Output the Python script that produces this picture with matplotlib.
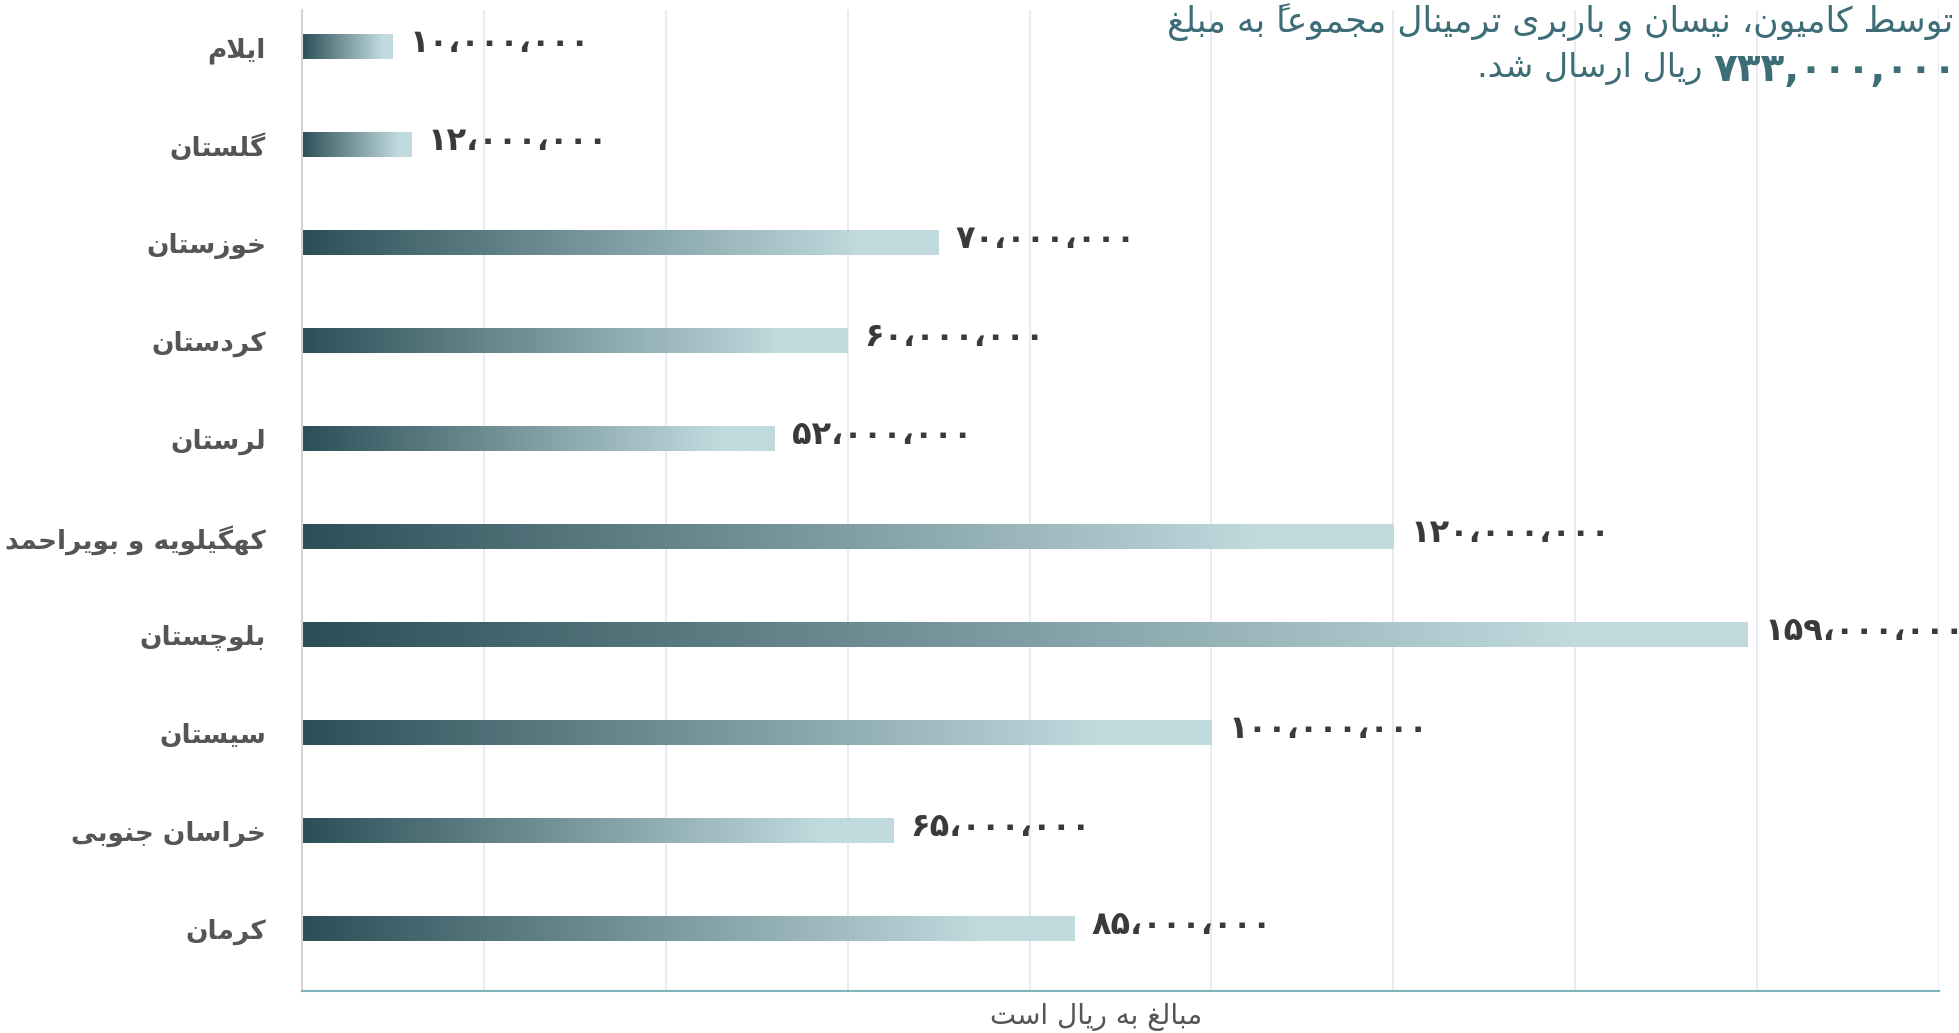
import numpy as np
import matplotlib
matplotlib.use("Agg")
import matplotlib.pyplot as plt
from matplotlib.colors import LinearSegmentedColormap

# provinces, top to bottom, and amounts in rials
provinces = ["ایلام", "گلستان", "خوزستان", "کردستان", "لرستان",
             "کهگیلویه و بویراحمد", "بلوچستان", "سیستان", "خراسان جنوبی", "کرمان"]
amounts = [10_000_000, 12_000_000, 70_000_000, 60_000_000, 52_000_000,
           120_000_000, 159_000_000, 100_000_000, 65_000_000, 85_000_000]
x_ticks = list(range(0, 180_000_001, 20_000_000))

title_line1 = "توسط کامیون، نیسان و باربری ترمینال مجموعاً به مبلغ"
title_line2 = "ریال ارسال شد."
x_label = "مبالغ به ریال است"

# --- minimal Persian shaping (matplotlib has no complex text layout) ---
FORMS = {  # isolated, final, initial, medial
    "ا": (0xFE8D, 0xFE8E), "آ": (0xFE81, 0xFE82), "د": (0xFEA9, 0xFEAA),
    "ذ": (0xFEAB, 0xFEAC), "ر": (0xFEAD, 0xFEAE), "ز": (0xFEAF, 0xFEB0),
    "ژ": (0xFB8A, 0xFB8B), "و": (0xFEED, 0xFEEE),
    "ب": (0xFE8F, 0xFE90, 0xFE91, 0xFE92), "پ": (0xFB56, 0xFB57, 0xFB58, 0xFB59),
    "ت": (0xFE95, 0xFE96, 0xFE97, 0xFE98), "ث": (0xFE99, 0xFE9A, 0xFE9B, 0xFE9C),
    "ج": (0xFE9D, 0xFE9E, 0xFE9F, 0xFEA0), "چ": (0xFB7A, 0xFB7B, 0xFB7C, 0xFB7D),
    "ح": (0xFEA1, 0xFEA2, 0xFEA3, 0xFEA4), "خ": (0xFEA5, 0xFEA6, 0xFEA7, 0xFEA8),
    "س": (0xFEB1, 0xFEB2, 0xFEB3, 0xFEB4), "ش": (0xFEB5, 0xFEB6, 0xFEB7, 0xFEB8),
    "ص": (0xFEB9, 0xFEBA, 0xFEBB, 0xFEBC), "ض": (0xFEBD, 0xFEBE, 0xFEBF, 0xFEC0),
    "ط": (0xFEC1, 0xFEC2, 0xFEC3, 0xFEC4), "ظ": (0xFEC5, 0xFEC6, 0xFEC7, 0xFEC8),
    "ع": (0xFEC9, 0xFECA, 0xFECB, 0xFECC), "غ": (0xFECD, 0xFECE, 0xFECF, 0xFED0),
    "ف": (0xFED1, 0xFED2, 0xFED3, 0xFED4), "ق": (0xFED5, 0xFED6, 0xFED7, 0xFED8),
    "ک": (0xFB8E, 0xFB8F, 0xFB90, 0xFB91), "گ": (0xFB92, 0xFB93, 0xFB94, 0xFB95),
    "ل": (0xFEDD, 0xFEDE, 0xFEDF, 0xFEE0), "م": (0xFEE1, 0xFEE2, 0xFEE3, 0xFEE4),
    "ن": (0xFEE5, 0xFEE6, 0xFEE7, 0xFEE8), "ه": (0xFEE9, 0xFEEA, 0xFEEB, 0xFEEC),
    "ی": (0xFBFC, 0xFBFD, 0xFBFE, 0xFBFF),
}
MARKS = {"\u064B", "\u064E", "\u064F", "\u0650", "\u0651", "\u0652"}


def shape(s):
    chars = list(s)
    out = []
    i = 0

    def neighbour(j, step):
        j += step
        while 0 <= j < len(chars) and chars[j] in MARKS:
            j += step
        return chars[j] if 0 <= j < len(chars) else None

    while i < len(chars):
        c = chars[i]
        if c not in FORMS:
            out.append(c)
            i += 1
            continue
        prev = neighbour(i, -1)
        nxt = neighbour(i, 1)
        join_prev = prev in FORMS and len(FORMS[prev]) == 4
        if c == "ل" and nxt in ("ا", "آ"):
            lig = {"ا": (0xFEFB, 0xFEFC), "آ": (0xFEF5, 0xFEF6)}[nxt]
            out.append(chr(lig[1] if join_prev else lig[0]))
            i += 2
            continue
        f = FORMS[c]
        join_next = len(f) == 4 and nxt in FORMS
        if join_prev and join_next:
            out.append(chr(f[3]))
        elif join_prev:
            out.append(chr(f[1]))
        elif join_next:
            out.append(chr(f[2]))
        else:
            out.append(chr(f[0]))
        i += 1
    return "".join(out)


def rtl(s):
    # shape, then put into visual order keeping digit runs left-to-right
    s = shape(s)
    runs, cur, is_num = [], "", None
    for k, c in enumerate(s):
        num = c.isdigit() or (c in ",،" and cur and is_num and k + 1 < len(s) and s[k + 1].isdigit())
        if is_num is None or num == is_num:
            cur += c
        else:
            runs.append((cur, is_num))
            cur = c
        is_num = num
    runs.append((cur, is_num))
    return "".join(r if n else r[::-1] for r, n in reversed(runs))


def fa_number(v, sep="،"):
    digits = str.maketrans("0123456789", "۰۱۲۳۴۵۶۷۸۹")
    return f"{v:,}".replace(",", sep).translate(digits)


plt.rcParams["font.family"] = ["DejaVu Sans"]

dark = "#2c4f57"
light = "#c0dade"
grad_cmap = LinearSegmentedColormap.from_list(
    "bar", [(0.0, dark), (0.88, light), (1.0, light)], N=256)

fig = plt.figure(figsize=(19.59, 10.33), dpi=100)
ax = fig.add_axes([0.1542, 0.0407, 0.8356, 0.9496])

y = np.arange(len(provinces))
bars = ax.barh(y, amounts, height=0.245, color="none")
gradient = np.linspace(0, 1, 256).reshape(1, -1)
for b in bars:
    x0, y0, w, h = b.get_x(), b.get_y(), b.get_width(), b.get_height()
    ax.imshow(gradient, cmap=grad_cmap, aspect="auto",
              extent=[x0, x0 + w, y0 + h, y0], zorder=2)

for yi, v in zip(y, amounts):
    ax.annotate(fa_number(v), (v, yi), xytext=(12, 3), textcoords="offset points",
                ha="left", va="center", fontsize=23, fontweight="bold",
                color="#3a3a3a")

ax.set_xlim(0, 180_000_000)
ax.set_ylim(len(provinces) - 1 + 0.63, -0.38)
ax.set_xticks(x_ticks)
ax.set_xticklabels([])
ax.tick_params(axis="x", length=0)
ax.grid(axis="x", color="#e6e8f3", linewidth=1.3, zorder=0)
ax.set_axisbelow(True)

ax.set_yticks(y)
ax.set_yticklabels([rtl(p) for p in provinces], fontsize=19, fontweight="bold",
                   color="#555555")
ax.tick_params(axis="y", length=0, pad=26)

for side in ("top", "right"):
    ax.spines[side].set_visible(False)
ax.spines["left"].set_color("#d4d4d4")
ax.spines["left"].set_linewidth(1.5)
ax.spines["bottom"].set_color("#7fb3bc")
ax.spines["bottom"].set_linewidth(1.5)

ax.set_xlabel(rtl(x_label), fontsize=20, color="#555555", labelpad=4)
ax.xaxis.set_label_coords(0.485, -0.012)
ax.xaxis.label.set_va("top")

# summary note in the top-right corner
total = sum(amounts)
title_color = "#3d6d77"
fig.text(0.997, 0.979, rtl(title_line1), ha="right", va="center",
         fontsize=25, color=title_color)
num = fig.text(0.999, 0.932, fa_number(total, sep=","), ha="right", va="center",
               fontsize=28, fontweight="bold", color=title_color)
ax.annotate(rtl(title_line2), xy=(0, 0.1), xycoords=num, xytext=(-8, 0),
            textcoords="offset points", ha="right", va="bottom",
            fontsize=24, color=title_color, annotation_clip=False)

fig.savefig("out.png", dpi=100)
